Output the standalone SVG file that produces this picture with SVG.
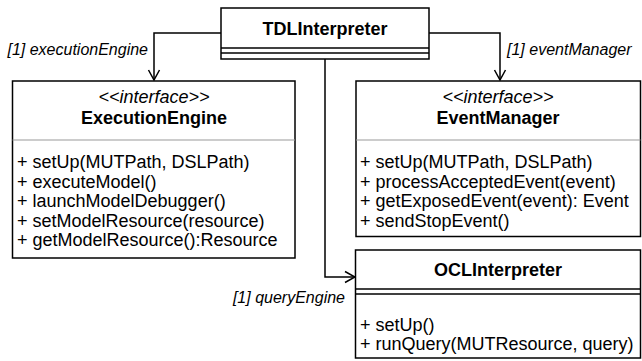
<svg xmlns="http://www.w3.org/2000/svg" width="642" height="361" viewBox="0 0 642 361">
<style>
.box{fill:#fff;stroke:#000;stroke-width:1.5}
.div{stroke:#000;stroke-width:1.5}
.gdiv{stroke:#999;stroke-width:1.2}
.t{font-family:"Liberation Sans",Arial,sans-serif;font-size:18px;fill:#000}
.b{font-weight:bold;text-anchor:middle}
.i{font-style:italic}
.c{text-anchor:middle}
.lbl{font-family:"Liberation Sans",Arial,sans-serif;font-size:16px;font-style:italic;fill:#000}
.edge{fill:none;stroke:#000;stroke-width:1.5}
</style>
<defs>
<marker id="open" viewBox="0 0 12 14" refX="11" refY="7" markerWidth="12" markerHeight="14" markerUnits="userSpaceOnUse" orient="auto">
<path d="M1,1.5 L11,7 L1,12.5" fill="none" stroke="#000" stroke-width="1.5"/>
</marker>
</defs>
<g id="connectors">
<path class="edge" d="M221,33 H154 V80" marker-end="url(#open)"/>
<path class="edge" d="M429,33 H500 V80" marker-end="url(#open)"/>
<path class="edge" d="M325,59 V277 H355" marker-end="url(#open)"/>
<text class="lbl" x="148" y="55" text-anchor="end">[1] executionEngine</text>
<text class="lbl" x="507" y="55">[1] eventManager</text>
<text class="lbl" x="345" y="303" text-anchor="end">[1] queryEngine</text>
</g>
<g id="TDLInterpreter">
<rect class="box" x="221" y="8" width="208" height="51"/>
<text class="t b" x="325" y="35">TDLInterpreter</text>
<line class="div" x1="221" y1="48" x2="429" y2="48"/>
<line class="div" x1="221" y1="53" x2="429" y2="53"/>
</g>
<g id="ExecutionEngine">
<rect class="box" x="12.5" y="81" width="282.5" height="177"/>
<text class="t i c" x="154" y="103">&lt;&lt;interface&gt;&gt;</text>
<text class="t b" x="154" y="124">ExecutionEngine</text>
<line class="gdiv" x1="12.5" y1="140" x2="295" y2="140"/>
<text class="t" x="17" y="168">+ setUp(MUTPath, DSLPath)</text>
<text class="t" x="17" y="187.5">+ executeModel()</text>
<text class="t" x="17" y="207">+ launchModelDebugger()</text>
<text class="t" x="17" y="226.5">+ setModelResource(resource)</text>
<text class="t" x="17" y="246">+ getModelResource():Resource</text>
</g>
<g id="EventManager">
<rect class="box" x="356" y="81" width="284.5" height="155.5"/>
<text class="t i c" x="498" y="103">&lt;&lt;interface&gt;&gt;</text>
<text class="t b" x="498" y="124">EventManager</text>
<line class="gdiv" x1="356" y1="140" x2="640.5" y2="140"/>
<text class="t" x="360" y="168">+ setUp(MUTPath, DSLPath)</text>
<text class="t" x="360" y="187.5">+ processAcceptedEvent(event)</text>
<text class="t" x="360" y="207">+ getExposedEvent(event): Event</text>
<text class="t" x="360" y="226.5">+ sendStopEvent()</text>
</g>
<g id="OCLInterpreter">
<rect class="box" x="355.5" y="250" width="285" height="108"/>
<text class="t b" x="498" y="276">OCLInterpreter</text>
<line class="div" x1="355.5" y1="289" x2="640.5" y2="289"/>
<line class="div" x1="355.5" y1="294" x2="640.5" y2="294"/>
<text class="t" x="360" y="331">+ setUp()</text>
<text class="t" x="360" y="350">+ runQuery(MUTResource, query)</text>
</g>
</svg>
